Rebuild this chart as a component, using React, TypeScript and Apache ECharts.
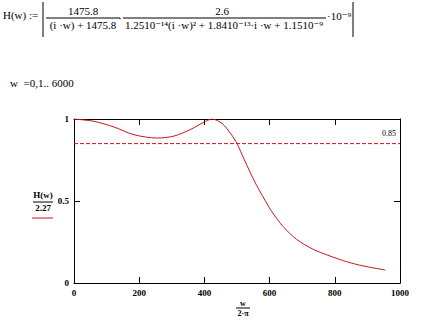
import React, { useEffect, useRef } from "react";
import * as echarts from "echarts";

// frequency w/(2π) and normalized magnitude |H(w)|/2.27
const freq = [0, 61, 123, 184, 256, 307, 358, 404, 424, 455, 481, 501, 521, 540, 560, 586, 606, 642, 683, 734, 785, 836, 887, 955];
const mag = [1.0, 0.986, 0.951, 0.904, 0.884, 0.896, 0.937, 0.986, 1.0, 0.971, 0.91, 0.846, 0.758, 0.677, 0.596, 0.504, 0.437, 0.343, 0.266, 0.205, 0.165, 0.13, 0.104, 0.079];
const refLevel = 0.85;
const refLabel = "0.85";
const xRange = [0, 1000];

const RED = "#c8141e";
const SERIF = "'Liberation Serif', 'DejaVu Serif', serif";

export default function App() {
  const ref = useRef<HTMLDivElement>(null);
  useEffect(() => {
    if (!ref.current) return;
    const chart = echarts.init(ref.current, undefined, { renderer: "svg" });
    const data = freq.map((f, i) => [f, mag[i]]);
    const refData = xRange.map((x) => [x, refLevel]);
    const txt = (text: string, x: number, y: number, size = 11, align = "left", weight = "normal") => ({
      type: "text",
      x,
      y,
      style: { text, fontSize: size, fontFamily: SERIF, fill: "#000", align, verticalAlign: "middle", fontWeight: weight },
    });
    const ln = (x1: number, y1: number, x2: number, y2: number, stroke = "#000", w = 1) => ({
      type: "line",
      shape: { x1, y1, x2, y2 },
      style: { stroke, lineWidth: w },
    });
    const axisCommon = {
      axisLine: { show: true, onZero: false, lineStyle: { color: "#000", width: 1 } },
      axisTick: { show: true, inside: true, length: 6, lineStyle: { color: "#000", width: 1 } },
      splitLine: { show: false },
    };
    const labelStyle = { fontSize: 9, fontWeight: "bold", fontFamily: SERIF, color: "#000", margin: 5,
      formatter: (v: number) => String(v) };
    chart.setOption({
      animation: false,
      grid: { left: 74, top: 119, width: 326, height: 164 },
      xAxis: [
        { type: "value", min: 0, max: 1000, interval: 200, position: "bottom", ...axisCommon, axisLabel: labelStyle },
        { type: "value", min: 0, max: 1000, interval: 200, position: "top", ...axisCommon, axisLabel: { show: false } },
      ],
      yAxis: [
        { type: "value", min: 0, max: 1, interval: 0.5, position: "left", ...axisCommon, axisLabel: labelStyle },
        { type: "value", min: 0, max: 1, interval: 0.5, position: "right", ...axisCommon, axisLabel: { show: false } },
      ],
      series: [
        {
          type: "line",
          data,
          smooth: 0.3,
          showSymbol: false,
          lineStyle: { color: RED, width: 1 },
          itemStyle: { color: RED },
        },
        {
          type: "line",
          data: refData,
          showSymbol: false,
          lineStyle: { color: RED, width: 1, type: [4, 2] },
          itemStyle: { color: RED },
        },
      ],
      graphic: [
        // formula
        txt("H(w) :=", 3, 15, 11),
        ln(43, 2, 43, 37),
        txt("1475.8", 83, 11, 11, "center"),
        ln(46, 18, 120, 18),
        txt("(i ·w) + 1475.8", 83, 25, 11, "center"),
        txt("·", 120, 18, 11, "center"),
        txt("2.6", 222, 11, 11, "center"),
        ln(123, 18, 326, 18),
        txt("1.2510⁻¹⁴(i ·w)² + 1.8410⁻¹³·i ·w + 1.1510⁻⁹", 224, 25, 11, "center"),
        txt("·10⁻⁹", 327, 16, 11),
        ln(353, 2, 353, 37),
        // range variable
        txt("w  =0,1.. 6000", 10, 83, 11),
        // reference line label
        txt(refLabel, 396, 133, 8, "right"),
        // y-axis title
        txt("H(w)", 43, 195, 9, "center", "bold"),
        ln(33, 202, 53, 202),
        txt("2.27", 43, 208, 9, "center", "bold"),
        ln(32, 218, 53, 218, RED, 1),
        // x-axis title
        txt("w", 243, 303, 8, "center", "bold"),
        ln(236, 308, 250, 308),
        txt("2·π", 243, 313, 8, "center", "bold"),
      ],
    });
    return () => chart.dispose();
  }, []);
  return <div ref={ref} style={{ position: "fixed", left: 0, top: 0, width: 426, height: 322, background: "#fff" }} />;
}
